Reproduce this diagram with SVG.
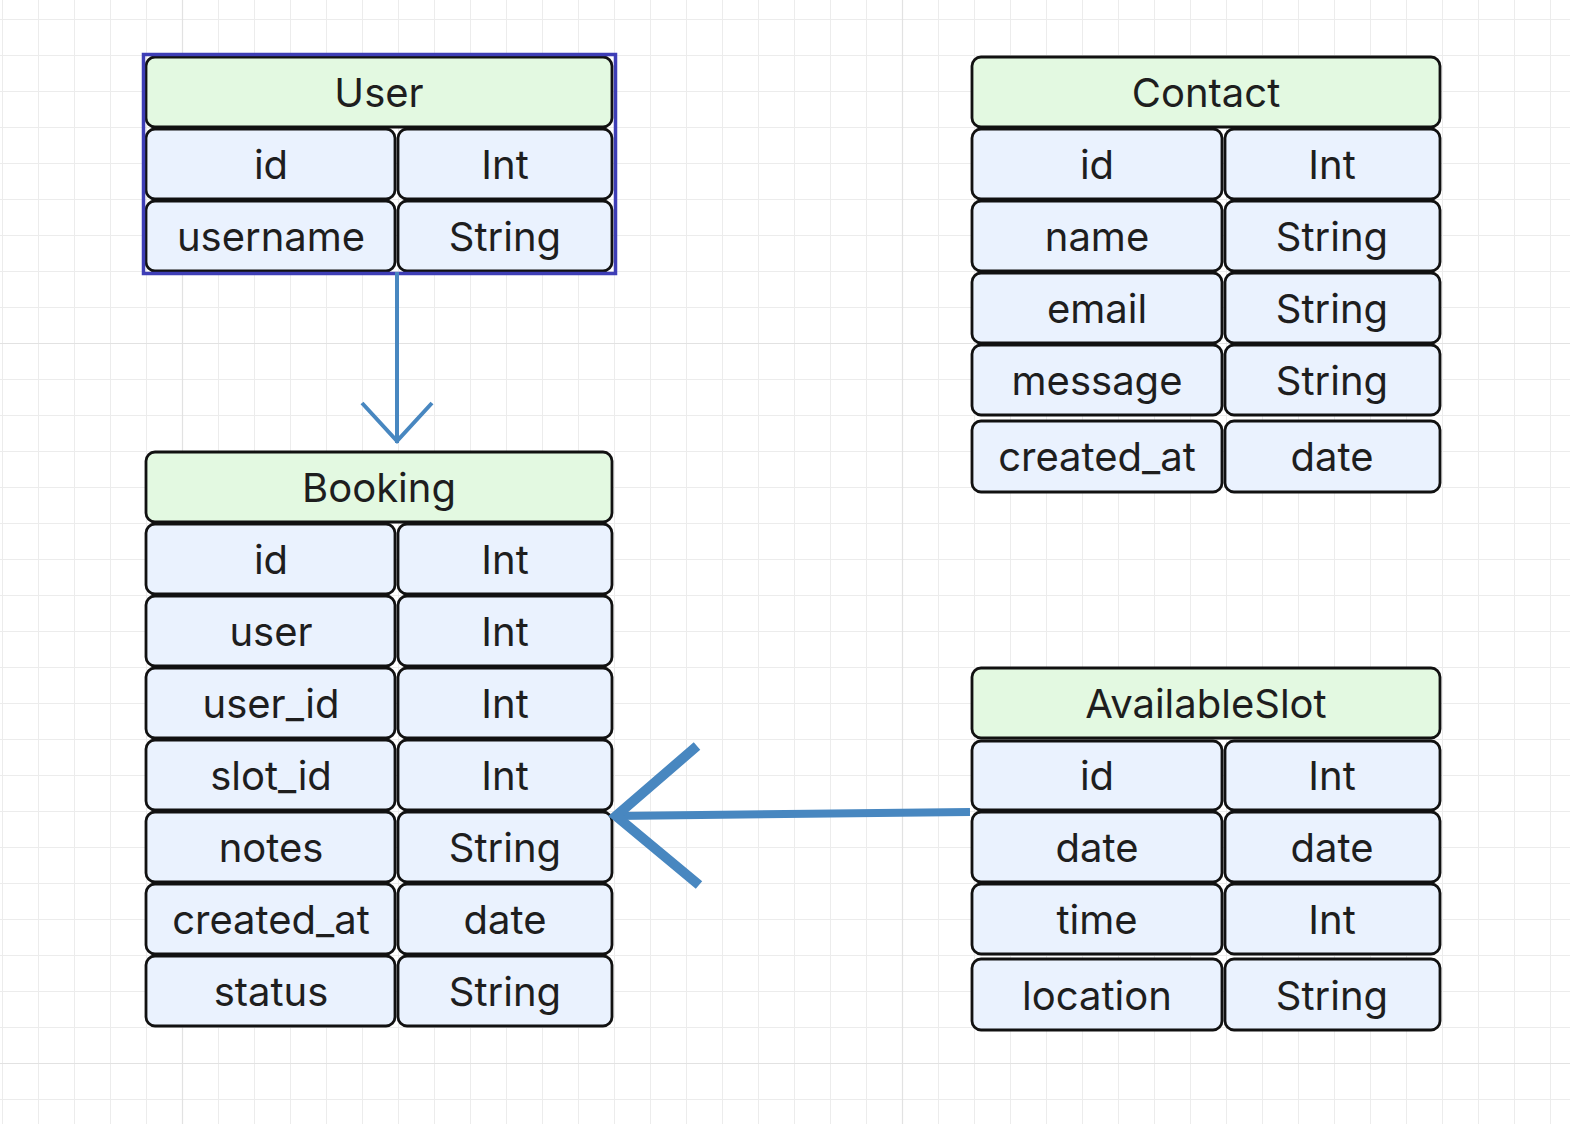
<svg xmlns="http://www.w3.org/2000/svg" width="1570" height="1124" viewBox="0 0 1570 1124">
<defs>
<pattern id="grid" x="2" y="19" width="36" height="36" patternUnits="userSpaceOnUse">
<path d="M0.5 0 V36 M0 0.5 H36" fill="none" stroke="#ececec" stroke-width="1"/>
</pattern>
<style>
.hd{fill:#e3f9e1;stroke:#111;stroke-width:2.8}
.cl{fill:#eaf2fe;stroke:#111;stroke-width:2.8}
text{font-family:Inter,"Liberation Sans",sans-serif;font-size:40px;fill:#1e1e1e;text-anchor:middle}
.ln{fill:none;stroke:#4887c0;stroke-linecap:butt}
</style>
</defs>
<rect width="1570" height="1124" fill="#ffffff"/>
<rect width="1570" height="1124" fill="url(#grid)"/>
<path d="M182.5 0 V1124 M902.5 0 V1124 M0 343.5 H1570 M0 1063.5 H1570" stroke="#e2e2e2" stroke-width="1.2" fill="none"/>

<g id="User">
<rect class="hd" x="146" y="57" width="466" height="70" rx="9"/>
<text x="379" y="107">User</text>
<rect class="cl" x="146" y="129" width="249" height="70" rx="9"/>
<rect class="cl" x="398" y="129" width="214" height="70" rx="9"/>
<text x="271" y="179">id</text><text x="505" y="179">Int</text>
<rect class="cl" x="146" y="201" width="249" height="70" rx="9"/>
<rect class="cl" x="398" y="201" width="214" height="70" rx="9"/>
<text x="271" y="251">username</text><text x="505" y="251">String</text>
<rect x="143.5" y="54.5" width="472" height="219" fill="none" stroke="#3e3eb6" stroke-width="3.5"/>
</g>

<g id="Booking">
<rect class="hd" x="146" y="452" width="466" height="70" rx="9"/>
<text x="379" y="502">Booking</text>
<rect class="cl" x="146" y="524" width="249" height="70" rx="9"/>
<rect class="cl" x="398" y="524" width="214" height="70" rx="9"/>
<text x="271" y="574">id</text><text x="505" y="574">Int</text>
<rect class="cl" x="146" y="596" width="249" height="70" rx="9"/>
<rect class="cl" x="398" y="596" width="214" height="70" rx="9"/>
<text x="271" y="646">user</text><text x="505" y="646">Int</text>
<rect class="cl" x="146" y="668" width="249" height="70" rx="9"/>
<rect class="cl" x="398" y="668" width="214" height="70" rx="9"/>
<text x="271" y="718">user_id</text><text x="505" y="718">Int</text>
<rect class="cl" x="146" y="740" width="249" height="70" rx="9"/>
<rect class="cl" x="398" y="740" width="214" height="70" rx="9"/>
<text x="271" y="790">slot_id</text><text x="505" y="790">Int</text>
<rect class="cl" x="146" y="812" width="249" height="70" rx="9"/>
<rect class="cl" x="398" y="812" width="214" height="70" rx="9"/>
<text x="271" y="862">notes</text><text x="505" y="862">String</text>
<rect class="cl" x="146" y="884" width="249" height="70" rx="9"/>
<rect class="cl" x="398" y="884" width="214" height="70" rx="9"/>
<text x="271" y="934">created_at</text><text x="505" y="934">date</text>
<rect class="cl" x="146" y="956" width="249" height="70" rx="9"/>
<rect class="cl" x="398" y="956" width="214" height="70" rx="9"/>
<text x="271" y="1006">status</text><text x="505" y="1006">String</text>
</g>

<g id="Contact">
<rect class="hd" x="972" y="57" width="468" height="70" rx="9"/>
<text x="1206" y="107">Contact</text>
<rect class="cl" x="972" y="129" width="250" height="70" rx="9"/>
<rect class="cl" x="1225" y="129" width="215" height="70" rx="9"/>
<text x="1097" y="179">id</text><text x="1332" y="179">Int</text>
<rect class="cl" x="972" y="201" width="250" height="70" rx="9"/>
<rect class="cl" x="1225" y="201" width="215" height="70" rx="9"/>
<text x="1097" y="251">name</text><text x="1332" y="251">String</text>
<rect class="cl" x="972" y="273" width="250" height="70" rx="9"/>
<rect class="cl" x="1225" y="273" width="215" height="70" rx="9"/>
<text x="1097" y="323">email</text><text x="1332" y="323">String</text>
<rect class="cl" x="972" y="345" width="250" height="70" rx="9"/>
<rect class="cl" x="1225" y="345" width="215" height="70" rx="9"/>
<text x="1097" y="395">message</text><text x="1332" y="395">String</text>
<rect class="cl" x="972" y="421" width="250" height="71" rx="9"/>
<rect class="cl" x="1225" y="421" width="215" height="71" rx="9"/>
<text x="1097" y="471">created_at</text><text x="1332" y="471">date</text>
</g>

<g id="AvailableSlot">
<rect class="hd" x="972" y="668" width="468" height="70" rx="9"/>
<text x="1206" y="718">AvailableSlot</text>
<rect class="cl" x="972" y="741" width="250" height="69" rx="9"/>
<rect class="cl" x="1225" y="741" width="215" height="69" rx="9"/>
<text x="1097" y="790">id</text><text x="1332" y="790">Int</text>
<rect class="cl" x="972" y="812" width="250" height="70" rx="9"/>
<rect class="cl" x="1225" y="812" width="215" height="70" rx="9"/>
<text x="1097" y="862">date</text><text x="1332" y="862">date</text>
<rect class="cl" x="972" y="884" width="250" height="70" rx="9"/>
<rect class="cl" x="1225" y="884" width="215" height="70" rx="9"/>
<text x="1097" y="934">time</text><text x="1332" y="934">Int</text>
<rect class="cl" x="972" y="959" width="250" height="71" rx="9"/>
<rect class="cl" x="1225" y="959" width="215" height="71" rx="9"/>
<text x="1097" y="1010">location</text><text x="1332" y="1010">String</text>
</g>

<g id="connectors">
<path class="ln" d="M397 272 V443" stroke-width="4"/>
<path class="ln" d="M362 403 L397 441 L432 403" stroke-width="4"/>
<path class="ln" d="M970 812 L616 816" stroke-width="8"/>
<path class="ln" d="M697 746 L616 816 L699 885" stroke-width="10"/>
</g>
</svg>
